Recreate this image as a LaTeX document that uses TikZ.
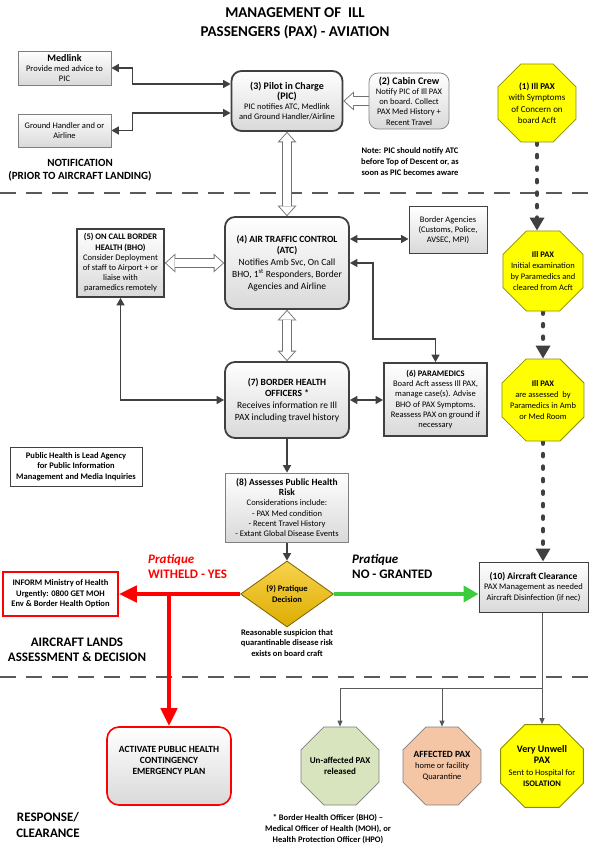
\documentclass[tikz,border=0pt]{standalone}
\usepackage{fontspec}
\setmainfont{Carlito}
\usetikzlibrary{arrows.meta,shapes.geometric,backgrounds}

\definecolor{darkline}{HTML}{404040}
\definecolor{midline}{HTML}{7F7F7F}
\definecolor{sectiongray}{HTML}{595959}
\definecolor{boxgray}{HTML}{D9D9D9}
\definecolor{paxyellow}{HTML}{FFFF00}
\definecolor{paxedge}{HTML}{8C8C00}
\definecolor{decgold}{HTML}{F5C000}
\definecolor{decedge}{HTML}{7F6000}
\definecolor{calmgreen}{HTML}{D7E4BD}
\definecolor{peach}{HTML}{F5C6A5}
\definecolor{alertred}{HTML}{FF0000}
\definecolor{gogreen}{HTML}{3DCC3D}

\newcommand{\hd}[1]{\textbf{\fontsize{10}{12}\selectfont #1}}

\begin{document}
\begin{tikzpicture}[x=1pt, y=-1pt, font=\fontsize{8.5}{10.2}\selectfont,
    wh/.style 2 args={minimum width=#1pt, minimum height=#2pt},
    plainbox/.style={draw=midline, line width=0.7pt, top color=white, bottom color=boxgray, align=center, inner sep=1pt},
    heavybox/.style={plainbox, draw=darkline, line width=1.8pt},
    roundbox/.style={heavybox, rounded corners=10pt},
    softbox/.style={plainbox, rounded corners=9pt},
    octa/.style={regular polygon, regular polygon sides=8, minimum size=84.4pt, inner sep=-4pt,
                 align=center, draw=paxedge, fill=paxyellow, line width=0.8pt},
    lbl/.style={align=center, font=\fontsize{8.5}{10.6}\selectfont\bfseries},
    arr/.style={draw=darkline, line width=1.5pt, >={Triangle[length=7.5pt,width=8pt]}},
    thinarr/.style={draw=sectiongray, line width=0.8pt, >={Triangle[length=6pt,width=5pt]}},
    hollowout/.style={draw=darkline!75, line width=9.5pt, >={Triangle[length=10.5pt,width=19pt,line width=0pt]}},
    hollowin/.style={draw=white, line width=7.7pt, shorten >=1.3pt, shorten <=1.3pt,
                     >={Triangle[length=8.3pt,width=15pt,line width=0pt]}},
    dotarr/.style={draw=darkline, line width=4pt, line cap=round, dash pattern=on 2.5pt off 10pt,
                   >={Triangle[length=13pt,width=14pt]}},
    sectionline/.style={draw=sectiongray, line width=2pt, dash pattern=on 16pt off 10pt},
    redarr/.style={draw=alertred, line width=4.5pt, >={Triangle[length=18pt,width=16pt]}},
    greenarr/.style={draw=gogreen, line width=4.5pt, >={Triangle[length=15pt,width=16pt]}}]

  \useasboundingbox (0,0) rectangle (591,850);
  \begin{scope}[on background layer]
    \fill[white] (0,0) rectangle (591,850);
    % stage dividers
    \draw[sectionline] (0,193) -- (591,193);
    \draw[sectionline] (0,677) -- (591,677);
  \end{scope}

  % headings
  \node[font=\fontsize{15}{19}\selectfont\bfseries, align=center] (title) at (295,23.5) {MANAGEMENT OF\ \ ILL\\PASSENGERS (PAX) - AVIATION};
  \node[font=\fontsize{11}{13}\selectfont\bfseries, align=center] (notify) at (80,170.5) {NOTIFICATION\\(PRIOR TO AIRCRAFT LANDING)};
  \node[font=\fontsize{13}{15}\selectfont\bfseries, align=center] (landing) at (77,649.5) {AIRCRAFT LANDS\\ASSESSMENT \& DECISION};
  \node[font=\fontsize{13}{16}\selectfont\bfseries, align=center] (response) at (48,825) {RESPONSE/\\CLEARANCE};

  % notification
  \node[plainbox, wh={93}{34}] (medlink) at (64.5,68) {\hd{Medlink}\\Provide med advice to\\PIC};
  \node[plainbox, wh={93}{33}] (ground) at (64.5,130.5) {Ground Handler and or\\Airline};
  \node[roundbox, wh={111}{60}] (pic) at (287,101) {\hd{(3) Pilot in Charge}\\\hd{(PIC)}\\PIC notifies ATC, Medlink\\and Ground Handler/Airline};
  \node[softbox, wh={80}{56}] (cabin) at (409,101) {\hd{(2) Cabin Crew}\\Notify PIC of Ill PAX\\on board. Collect\\PAX Med History +\\Recent Travel};
  \node[octa, font=\fontsize{9}{11.5}\selectfont] (pax1) at (537,103) {\textbf{(1) Ill PAX}\\with Symptoms\\of Concern on\\board Acft};
  \node[lbl] (picnote) at (410,161.5) {Note: PIC should notify ATC\\before Top of Descent or, as\\soon as PIC becomes aware};

  % air traffic control
  \node[roundbox, wh={124}{92}, font=\fontsize{9.5}{11.8}\selectfont] (atc) at (287,263) {\textbf{(4) AIR TRAFFIC CONTROL}\\\textbf{(ATC)}\\Notifies Amb Svc, On Call\\BHO, 1\textsuperscript{st} Responders, Border\\Agencies and Airline};
  \node[plainbox, draw=darkline, line width=1pt, wh={78}{46}] (ba) at (448,230) {Border Agencies\\(Customs, Police,\\AVSEC, MPI)};
  \node[heavybox, wh={87}{68}] (bho5) at (120.5,263) {\textbf{(5) ON CALL BORDER}\\\textbf{HEALTH (BHO)}\\Consider Deployment\\of staff to Airport + or\\liaise with\\paramedics remotely};
  \node[roundbox, wh={124}{76}, font=\fontsize{9.5}{11.8}\selectfont] (bho7) at (287,400) {\textbf{(7) BORDER HEALTH}\\\textbf{OFFICERS *}\\Receives information re Ill\\PAX including travel history};
  \node[heavybox, wh={103}{73}] (para6) at (435.5,399.5) {\textbf{(6) PARAMEDICS}\\Board Acft assess Ill PAX,\\manage case(s). Advise\\BHO of PAX Symptoms.\\Reassess PAX on ground if\\necessary};
  \node[octa, font=\fontsize{8.5}{11}\selectfont] (pax2) at (543,271) {\textbf{Ill PAX}\\Initial examination\\by Paramedics and\\cleared from Acft};
  \node[octa, font=\fontsize{8.5}{11}\selectfont] (pax3) at (543,400) {\textbf{Ill PAX}\\are assessed\ \ by\\Paramedics in Amb\\or Med Room};

  % assessment and decision
  \node[lbl, draw=darkline, line width=0.8pt, wh={132}{39}] (lead) at (76,466.5) {Public Health is Lead Agency\\for Public Information\\Management and Media Inquiries};
  \node[plainbox, wh={123}{69}] (risk8) at (287,507.5) {\textbf{\fontsize{9.5}{11.5}\selectfont (8) Assesses Public Health}\\\textbf{\fontsize{9.5}{11.5}\selectfont Risk}\\Considerations include:\\- PAX Med condition\\- Recent Travel History\\- Extant Global Disease Events};
  \node[diamond, draw=decedge, line width=0.8pt, top color=decgold!70!white, bottom color=decgold!90!black, wh={93}{66}, inner sep=0pt, align=center, font=\fontsize{8.5}{10.6}\selectfont\bfseries] (dec9) at (287,594) {(9) Pratique\\Decision};
  \node[lbl] (suspicion) at (287,643) {Reasonable suspicion that\\quarantinable disease risk\\exists on board craft};
  \node[lbl, draw=alertred, line width=1.6pt, fill=white, wh={115}{44}] (inform) at (60.5,594) {INFORM Ministry of Health\\Urgently: 0800 GET MOH\\Env \& Border Health Option};
  \node[plainbox, draw=darkline, line width=1pt, wh={109}{50}] (clear10) at (533.5,587) {\textbf{\fontsize{9.5}{11.5}\selectfont (10) Aircraft Clearance}\\PAX Management as needed\\Aircraft Disinfection (if nec)};
  \node[font=\fontsize{13}{15}\selectfont\bfseries, text=alertred, align=left, anchor=west, inner sep=0pt] (withheld) at (148,566) {\textit{Pratique}\\WITHELD - YES};
  \node[font=\fontsize{13}{15}\selectfont\bfseries, align=left, anchor=west, inner sep=0pt] (granted) at (352,566) {\textit{Pratique}\\NO - GRANTED};

  % response
  \node[plainbox, draw=alertred, line width=1.6pt, rounded corners=12pt, wh={124}{78}, font=\fontsize{9.5}{11.2}\selectfont\bfseries] (activate) at (169,766) {ACTIVATE PUBLIC HEALTH\\CONTINGENCY\\EMERGENCY PLAN\\~};
  \node[octa, draw=midline, fill=calmgreen, font=\fontsize{9}{11}\selectfont\bfseries] (unaffected) at (340,766) {Un-affected PAX\\released};
  \node[octa, draw=midline, fill=peach, font=\fontsize{8.5}{11}\selectfont] (affected) at (442,766) {\textbf{\fontsize{9.5}{11}\selectfont AFFECTED PAX}\\home or facility\\Quarantine};
  \node[octa, font=\fontsize{8.5}{11.5}\selectfont] (unwell) at (542,766) {\textbf{\fontsize{10}{12}\selectfont Very Unwell}\\\textbf{\fontsize{10}{12}\selectfont PAX}\\Sent to Hospital for\\\textbf{ISOLATION}};
  \node[lbl] (footnote) at (328,829) {* Border Health Officer (BHO) –\\Medical Officer of Health (MOH), or\\Health Protection Officer (HPO)};

  \coordinate (atcba) at ([yshift=24pt]atc.east);
  \coordinate (redfork) at (activate.north |- dec9.west);
  \coordinate (fanout) at (unwell.north |- 0,688);

  \begin{scope}[on background layer]
    % open block arrows
    \foreach \a/\b in {pic.south/atc.north, atc.south/bho7.north, bho5.east/atc.west} {
      \draw[hollowout,<->] (\a) -- (\b);
      \draw[hollowin,<->] (\a) -- (\b);
    }
    \draw[hollowout,->] (cabin.west) -- (pic.east);
    \draw[hollowin,->,shorten <=0pt] (cabin.west) -- (pic.east);

    \draw[arr,<->] ([yshift=17pt]pic.west) -- ++(-98,0) |- (medlink.east);
    \draw[arr,<->] ([yshift=-12pt]pic.west) -- ++(-98,0) |- (ground.east);
    \draw[arr,<->] (atcba) -- (atcba -| ba.west);
    \draw[arr,<->] (atc.east) -- ++(23,0) -- ++(0,76) -| (para6.north);
    \draw[arr,<->] (bho5.south) |- (bho7.west);
    \draw[arr,<->] (bho7.east) -- (bho7.east -| para6.west);
    \draw[arr,->] (bho7.south) -- (risk8.north);
    \draw[arr,->] (risk8.south) -- (dec9.north);

    % ill passenger track
    \draw[dotarr,->] (pax1.south) -- (pax1.south |- pax2.north);
    \draw[dotarr,->] (pax2.south) -- (pax3.north);
    \draw[dotarr,->] (pax3.south) -- (pax3.south |- clear10.north);

    % pratique outcome
    \draw[redarr,->] (dec9.west) -- (dec9.west -| inform.east);
    \draw[redarr,->] (redfork) -- (activate.north);
    \draw[greenarr,->] (dec9.east) -- (dec9.east -| clear10.west);

    \draw[thinarr] (unwell.north |- clear10.south) -- (fanout);
    \foreach \t in {unaffected, affected, unwell}
      \draw[thinarr,->] (fanout) -| (\t.north);
  \end{scope}
\end{tikzpicture}
\end{document}
